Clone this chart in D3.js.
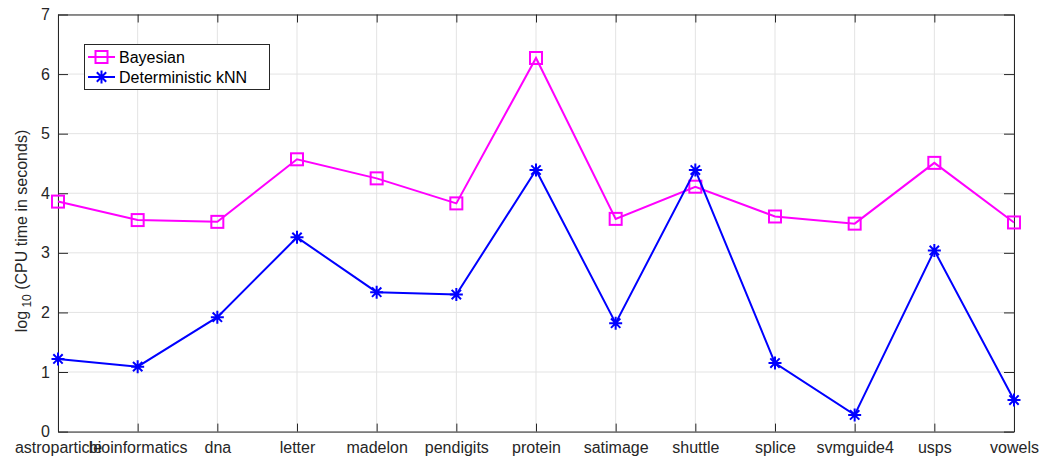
<!DOCTYPE html>
<html>
<head>
<meta charset="utf-8">
<script src="https://cdn.jsdelivr.net/npm/d3@7"></script>
<style>
  html, body { margin: 0; padding: 0; background: #fff; }
  svg { display: block; font-family: "Liberation Sans", Arial, Helvetica, sans-serif; }
</style>
</head>
<body>
<svg id="chart" width="1039" height="458"></svg>
<script>
// Datasets on the x axis
const categories = ["astroparticle", "bioinformatics", "dna", "letter", "madelon", "pendigits",
  "protein", "satimage", "shuttle", "splice", "svmguide4", "usps", "vowels"];

// log10 of CPU time (seconds)
const bayesian = [3.86, 3.55, 3.52, 4.57, 4.25, 3.83, 6.27, 3.57, 4.11, 3.61, 3.49, 4.51, 3.51];
const knn      = [1.22, 1.09, 1.92, 3.26, 2.34, 2.30, 4.39, 1.82, 4.39, 1.15, 0.28, 3.04, 0.53];

const yTicks = [0, 1, 2, 3, 4, 5, 6, 7];

const seriesNames = ["Bayesian", "Deterministic kNN"];

const margin = { left: 58, right: 1039 - 1014, top: 14.5, bottom: 458 - 431.6 };
const width = 1039, height = 458;
const axisColor = "#262626";
const gridColor = "#e3e3e3";
const fontSize = 16;

const svg = d3.select("#chart");

const x = d3.scalePoint().domain(categories).range([margin.left, width - margin.right]);
const y = d3.scaleLinear().domain([0, 7]).range([height - margin.bottom, margin.top]);

const x0 = margin.left, x1 = width - margin.right;
const y0 = height - margin.bottom, y1 = margin.top;

// Grid
const grid = svg.append("g");
grid.selectAll("line.vg").data(categories).join("line")
  .attr("x1", d => x(d)).attr("x2", d => x(d))
  .attr("y1", y0).attr("y2", y1)
  .attr("stroke", gridColor).attr("stroke-width", 1);
grid.selectAll("line.hg").data(yTicks).join("line")
  .attr("x1", x0).attr("x2", x1)
  .attr("y1", d => y(d)).attr("y2", d => y(d))
  .attr("stroke", gridColor).attr("stroke-width", 1);

// Axes (ticks pointing inward)
const xAxis = d3.axisBottom(x).tickSizeInner(-8).tickSizeOuter(0);
const gx = svg.append("g").attr("transform", `translate(0,${y0})`).call(xAxis);
const yAxis = d3.axisLeft(y).tickValues(yTicks).tickFormat(d3.format("d")).tickSizeInner(-10).tickSizeOuter(0);
const gy = svg.append("g").attr("transform", `translate(${x0},0)`).call(yAxis);
const xTop = d3.axisTop(x).tickSizeInner(-8).tickSizeOuter(0).tickFormat("");
const gxt = svg.append("g").attr("transform", `translate(0,${y1})`).call(xTop);
const yRight = d3.axisRight(y).tickValues(yTicks).tickSizeInner(-10).tickSizeOuter(0).tickFormat("");
const gyr = svg.append("g").attr("transform", `translate(${x1},0)`).call(yRight);

[gx, gy, gxt, gyr].forEach(g => {
  g.selectAll("path.domain").attr("stroke", axisColor).attr("stroke-width", 1);
  g.selectAll(".tick line").attr("stroke", axisColor).attr("stroke-width", 1);
  g.selectAll(".tick text").attr("fill", axisColor).attr("font-size", fontSize)
    .attr("font-family", "'Liberation Sans', Arial, sans-serif");
});
gx.selectAll(".tick text").attr("dy", "0.35em").attr("y", 16);
gy.selectAll(".tick text").attr("x", -8);

// Y label with subscript
const ylab = svg.append("text")
  .attr("transform", `translate(27,${(y0 + y1) / 2 + 8}) rotate(-90)`)
  .attr("text-anchor", "middle")
  .attr("fill", axisColor)
  .attr("font-size", fontSize);
ylab.append("tspan").text("log");
ylab.append("tspan").attr("font-size", 12).attr("dy", 4).text(" 10");
ylab.append("tspan").attr("dy", -4).text(" (CPU time in seconds)");

// Series
const line = d3.line().x((d, i) => x(categories[i])).y(d => y(d));

const colors = ["#ff00ff", "#0000ff"];
const data = [bayesian, knn];

function drawSquare(g, cx, cy, color) {
  g.append("rect").attr("x", cx - 6).attr("y", cy - 6).attr("width", 12).attr("height", 12)
    .attr("fill", "none").attr("stroke", color).attr("stroke-width", 2);
}
function drawStar(g, cx, cy, color) {
  const r = 6.5;
  const p = d3.path();
  p.moveTo(cx, cy - r); p.lineTo(cx, cy + r);
  p.moveTo(cx - r, cy); p.lineTo(cx + r, cy);
  const d = r * 0.72;
  p.moveTo(cx - d, cy - d); p.lineTo(cx + d, cy + d);
  p.moveTo(cx - d, cy + d); p.lineTo(cx + d, cy - d);
  g.append("path").attr("d", p.toString()).attr("stroke", color).attr("stroke-width", 2).attr("fill", "none");
}
const markerFns = [drawSquare, drawStar];

data.forEach((vals, si) => {
  const g = svg.append("g");
  g.append("path").datum(vals).attr("d", line)
    .attr("fill", "none").attr("stroke", colors[si]).attr("stroke-width", 2);
  vals.forEach((v, i) => markerFns[si](g, x(categories[i]), y(v), colors[si]));
});

// Legend
const lg = svg.append("g");
lg.append("rect").attr("x", 84.5).attr("y", 44.5).attr("width", 185).attr("height", 45)
  .attr("fill", "#fff").attr("stroke", axisColor).attr("stroke-width", 1);
seriesNames.forEach((name, i) => {
  const cy = 57 + i * 20;
  lg.append("line").attr("x1", 88).attr("x2", 115).attr("y1", cy).attr("y2", cy)
    .attr("stroke", colors[i]).attr("stroke-width", 2);
  markerFns[i](lg, 101.5, cy, colors[i]);
  lg.append("text").attr("x", 119).attr("y", cy).attr("dy", "0.35em")
    .attr("font-size", fontSize).attr("fill", "#000").text(name);
});
</script>
</body>
</html>
